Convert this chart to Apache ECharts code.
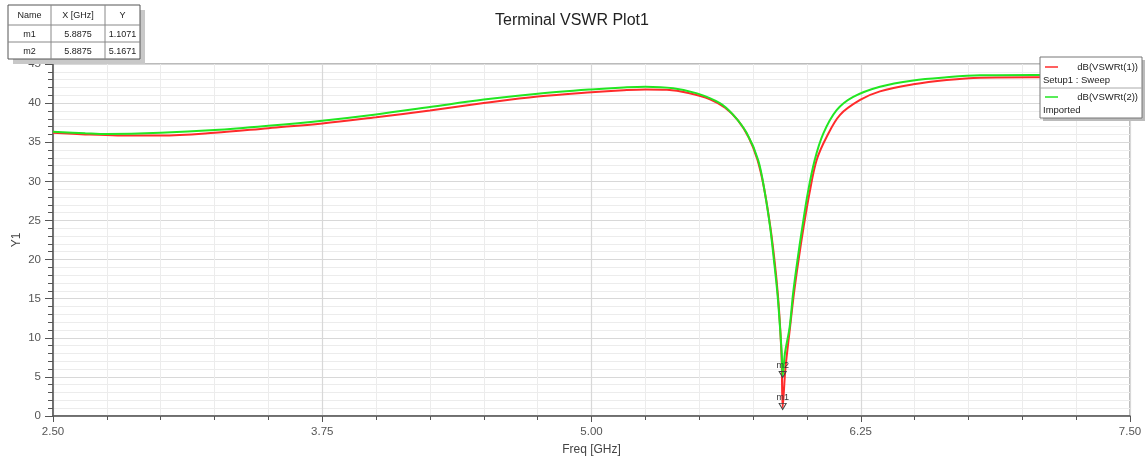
<!DOCTYPE html>
<html><head><meta charset="utf-8">
<script src="https://cdn.jsdelivr.net/npm/echarts@6/dist/echarts.min.js"></script>
<style>html,body{margin:0;padding:0;background:#fff;overflow:hidden}#c{width:1148px;height:459px}</style>
</head><body><div id="c"></div>
<script>
// ---- data ----
const titleText = 'Terminal VSWR Plot1';
const xName = 'Freq [GHz]';
const yName = 'Y1';
const seriesNames = ['dB(VSWRt(1))', 'dB(VSWRt(2))'];
const seriesSubs = ['Setup1 : Sweep', 'Imported'];

const freqRed = [2.50,2.65,2.80,3.00,3.25,3.50,3.75,4.00,4.25,4.50,4.75,5.00,5.15,5.25,5.35,5.45,5.55,5.62,5.68,5.73,5.77,5.80,5.83,5.85,5.865,5.876,5.883,5.8875,5.90,5.922,5.94,5.961,5.985,6.012,6.045,6.092,6.154,6.247,6.339,6.494,6.649,6.804,7.05,7.50];
const valRed  = [36.2,36.0,35.87,35.85,36.2,36.8,37.4,38.2,39.05,40.0,40.85,41.4,41.65,41.75,41.7,41.3,40.5,39.4,37.8,35.6,32.8,29.3,24.2,19.8,15.6,11.2,7.0,1.1071,6.0,11.4,15.7,19.9,24.2,28.5,32.7,35.7,38.5,40.4,41.5,42.4,42.95,43.25,43.3,43.3];

const freqGreen = [2.50,2.65,2.75,3.00,3.25,3.50,3.75,4.00,4.25,4.50,4.75,5.00,5.15,5.25,5.38,5.49,5.596,5.658,5.72,5.774,5.805,5.829,5.847,5.863,5.875,5.883,5.8875,5.898,5.92,5.936,5.956,5.979,6.004,6.036,6.076,6.138,6.215,6.339,6.494,6.649,6.804,7.05,7.50];
const valGreen  = [36.35,36.15,36.05,36.2,36.55,37.1,37.75,38.55,39.5,40.45,41.2,41.75,42.0,42.1,41.9,41.25,40.0,38.5,36.2,32.7,28.5,24.2,19.9,15.7,11.4,8.0,5.1671,8.0,11.4,15.7,19.9,24.2,28.5,32.7,36.1,39.1,40.8,42.1,42.9,43.3,43.55,43.6,43.6];

const markerNames = ['m1', 'm2'];
const markerX = [5.8875, 5.8875];
const markerY = [1.1071, 5.1671];
const tableHeader = ['Name', 'X [GHz]', 'Y'];

// ---- chart ----
const chart = echarts.init(document.getElementById('c'), null, {renderer: 'canvas'});
const FONT = 'Liberation Sans, Arial, sans-serif';
const pair = (xs, ys) => xs.map((x, i) => [x, ys[i]]);
const triPath = 'path://M0,0 L10,0 L5,9 Z';
const ZG = 100;

function markPt(i) {
  return {
    symbol: triPath, symbolSize: [7, 6], symbolOffset: [0, -1],
    itemStyle: {color: 'rgba(0,0,0,0)', borderColor: '#444', borderWidth: 1},
    label: {show: true, position: 'top', distance: 1, formatter: markerNames[i], fontSize: 9, color: '#333', fontFamily: FONT},
    data: [{coord: [markerX[i], markerY[i]]}]
  };
}

// table graphic
const tX = 8, tY = 5, colW = [43, 54, 35], rowH = [20, 17, 17];
const tW = colW.reduce((a, b) => a + b, 0), tH = rowH.reduce((a, b) => a + b, 0);
const tableEls = [];
tableEls.push({type: 'rect', z: ZG, shape: {x: tX + 5, y: tY + 5, width: tW, height: tH}, style: {fill: '#c8c8c8'}});
tableEls.push({type: 'rect', z: ZG + 1, shape: {x: tX, y: tY, width: tW, height: tH}, style: {fill: '#fff', stroke: '#555', lineWidth: 1}});
let cx = tX;
for (let c = 0; c < colW.length - 1; c++) { cx += colW[c]; tableEls.push({type: 'line', z: ZG + 2, shape: {x1: cx, y1: tY, x2: cx, y2: tY + tH}, style: {stroke: '#888', lineWidth: 1}}); }
let ry = tY;
for (let r = 0; r < rowH.length - 1; r++) { ry += rowH[r]; tableEls.push({type: 'line', z: ZG + 2, shape: {x1: tX, y1: ry, x2: tX + tW, y2: ry}, style: {stroke: '#888', lineWidth: 1}}); }
const rows = [tableHeader].concat(markerNames.map((n, i) => [n, markerX[i].toFixed(4), markerY[i].toFixed(4)]));
ry = tY;
rows.forEach((row, r) => {
  let x0 = tX;
  row.forEach((txt, c) => {
    tableEls.push({type: 'text', z: ZG + 3, x: x0 + colW[c] / 2, y: ry + rowH[r] / 2 + 1,
      style: {text: txt, fill: '#222', fontSize: 9, fontFamily: FONT, align: 'center', verticalAlign: 'middle'}});
    x0 += colW[c];
  });
  ry += rowH[r];
});

// legend graphic
const lX = 1040, lY = 57, lW = 102, lH = 61;
const legColors = ['#ff2b2b', '#22e622'];
const legendEls = [
  {type: 'rect', z: ZG, shape: {x: lX + 3, y: lY + 3, width: lW, height: lH}, style: {fill: '#bbb'}},
  {type: 'rect', z: ZG + 1, shape: {x: lX, y: lY, width: lW, height: lH}, style: {fill: '#fff', stroke: '#777', lineWidth: 1}},
  {type: 'line', z: ZG + 2, shape: {x1: lX, y1: lY + 31, x2: lX + lW, y2: lY + 31}, style: {stroke: '#aaa', lineWidth: 1}}
];
[0, 1].forEach(i => {
  const y0 = lY + 10 + i * 30;
  legendEls.push({type: 'line', z: ZG + 2, shape: {x1: lX + 5, y1: y0, x2: lX + 18, y2: y0}, style: {stroke: legColors[i], lineWidth: 1.5}});
  legendEls.push({type: 'text', z: ZG + 3, x: lX + lW - 4, y: y0, style: {text: seriesNames[i], fill: '#222', fontSize: 9.5, fontFamily: FONT, align: 'right', verticalAlign: 'middle'}});
  legendEls.push({type: 'text', z: ZG + 3, x: lX + 3, y: y0 + 13, style: {text: seriesSubs[i], fill: '#222', fontSize: 9.5, fontFamily: FONT, align: 'left', verticalAlign: 'middle'}});
});

chart.setOption({
  animation: false,
  backgroundColor: '#fff',
  title: {text: titleText, left: 567, top: 8, textAlign: 'center',
    textStyle: {fontSize: 16, fontWeight: 'normal', color: '#222', fontFamily: FONT}},
  grid: {left: 53, right: 18, top: 64, bottom: 43, containLabel: false, outerBoundsMode: 'none',
    show: true, borderColor: '#777', borderWidth: 1, backgroundColor: 'transparent'},
  xAxis: {
    type: 'value', min: 2.5, max: 7.5, interval: 1.25,
    name: xName, nameLocation: 'middle', nameGap: 28,
    nameTextStyle: {fontSize: 12, color: '#444', fontFamily: FONT},
    axisLine: {show: true, lineStyle: {color: '#555', width: 1.5}},
    axisTick: {show: true, length: 6, lineStyle: {color: '#555'}},
    minorTick: {show: true, splitNumber: 5, length: 4, lineStyle: {color: '#555'}},
    axisLabel: {formatter: v => v.toFixed(2), fontSize: 11.5, color: '#555', margin: 10, fontFamily: FONT},
    splitLine: {show: true, lineStyle: {color: '#d8d8d8', width: 1.2}},
    minorSplitLine: {show: true, lineStyle: {color: '#ececec', width: 1}}
  },
  yAxis: {
    type: 'value', min: 0, max: 45, interval: 5,
    name: yName, nameLocation: 'middle', nameGap: 30, nameRotate: 90, nameMoveOverlap: false,
    nameTextStyle: {fontSize: 12, color: '#444', fontFamily: FONT},
    axisLine: {show: true, lineStyle: {color: '#555', width: 1.5}},
    axisTick: {show: true, length: 8, lineStyle: {color: '#555'}},
    minorTick: {show: true, splitNumber: 5, length: 5, lineStyle: {color: '#555'}},
    axisLabel: {fontSize: 11.5, color: '#555', margin: 12, fontFamily: FONT},
    splitLine: {show: true, lineStyle: {color: '#d8d8d8', width: 1.2}},
    minorSplitLine: {show: true, lineStyle: {color: '#ececec', width: 1}}
  },
  series: [
    {name: seriesNames[0], type: 'line', data: pair(freqRed, valRed), showSymbol: false, symbol: 'none',
      smooth: 0.35, lineStyle: {color: legColors[0], width: 2}, z: 2, markPoint: markPt(0)},
    {name: seriesNames[1], type: 'line', data: pair(freqGreen, valGreen), showSymbol: false, symbol: 'none',
      smooth: 0.35, lineStyle: {color: legColors[1], width: 2}, z: 3, markPoint: markPt(1)}
  ],
  graphic: tableEls.concat(legendEls)
});
</script>
</body></html>
